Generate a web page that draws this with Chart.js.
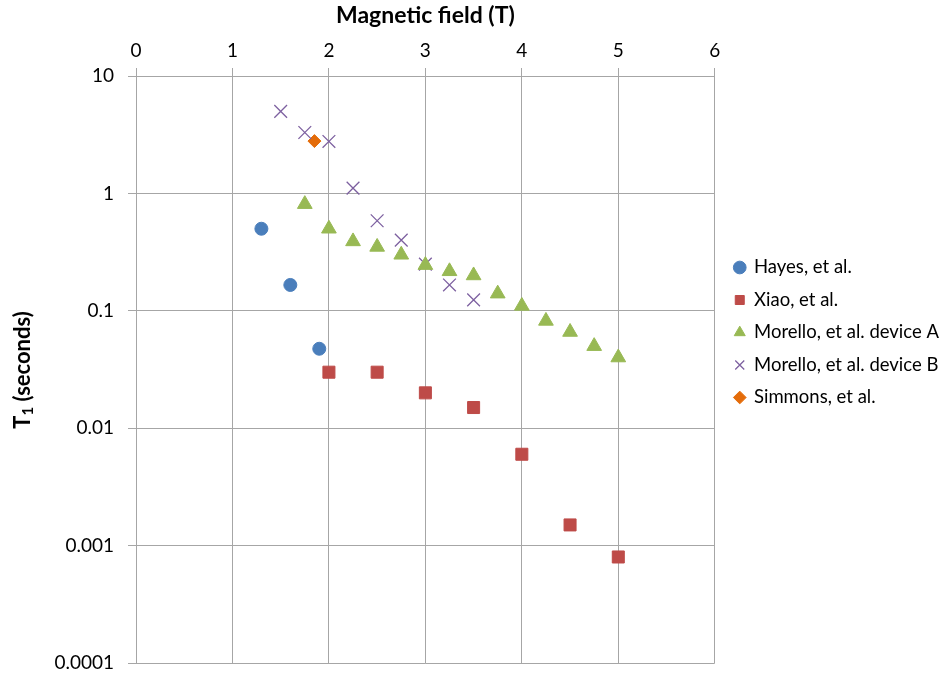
<!DOCTYPE html>
<html>
<head>
<meta charset="utf-8">
<script src="https://cdn.jsdelivr.net/npm/chart.js@4.4.0/dist/chart.umd.min.js"></script>
<style>
  html, body { margin: 0; padding: 0; background: #fff; }
  #wrap { width: 943px; height: 674px; }
</style>
</head>
<body>
<div id="wrap"><canvas id="myChart" width="943" height="674"></canvas></div>
<script>
// T1 versus magnetic field, several groups

const hayesX = [1.3, 1.6, 1.9];
const hayesY = [0.5, 0.166, 0.0475];

const xiaoX = [2, 2.5, 3, 3.5, 4, 4.5, 5];
const xiaoY = [0.03, 0.03, 0.02, 0.015, 0.006, 0.0015, 0.0008];

const morelloAX = [1.75, 2, 2.25, 2.5, 2.75, 3, 3.25, 3.5, 3.75, 4, 4.25, 4.5, 4.75, 5];
const morelloAY = [0.81, 0.5, 0.39, 0.35, 0.30, 0.245, 0.217, 0.2, 0.14, 0.11, 0.082, 0.066, 0.05, 0.04];

const morelloBX = [1.5, 1.75, 2, 2.25, 2.5, 2.75, 3, 3.25, 3.5];
const morelloBY = [5, 3.3, 2.77, 1.11, 0.585, 0.4, 0.25, 0.166, 0.124];

const simmonsX = [1.85];
const simmonsY = [2.79];

const yTicks = [10, 1, 0.1, 0.01, 0.001, 0.0001];

function pts(xs, ys) {
    return xs.map((x, i) => ({ x: x, y: ys[i] }));
}

const FONT = 'Lato, "Open Sans", sans-serif';
const gridColor = '#a6a6a6';

const data = {
    datasets: [{
        label: 'Hayes, et al.',
        data: pts(hayesX, hayesY),
        pointStyle: 'circle',
        pointRadius: 6.5,
        backgroundColor: '#4a7ebb',
        borderColor: '#4a7ebb',
    }, {
        label: 'Xiao, et al.',
        data: pts(xiaoX, xiaoY),
        pointStyle: 'rect',
        pointRadius: 8.5,
        backgroundColor: '#be4b48',
        borderColor: '#be4b48',
    }, {
        label: 'Morello, et al. device A',
        data: pts(morelloAX, morelloAY),
        pointStyle: 'triangle',
        pointRadius: 8.5,
        backgroundColor: '#98b954',
        borderColor: '#98b954',
    }, {
        label: 'Morello, et al. device B',
        data: pts(morelloBX, morelloBY),
        pointStyle: 'crossRot',
        pointRadius: 9,
        borderWidth: 1.3,
        backgroundColor: '#7d60a0',
        borderColor: '#7d60a0',
    }, {
        label: 'Simmons, et al.',
        data: pts(simmonsX, simmonsY),
        pointStyle: 'rectRot',
        pointRadius: 6.5,
        backgroundColor: '#e46c0a',
        borderColor: '#e46c0a',
    }]
};

// y axis title with a subscript, drawn by hand
const yTitle = {
    id: 'yTitle',
    afterDraw(chart) {
        const ctx = chart.ctx;
        ctx.save();
        ctx.translate(23, 370);
        ctx.rotate(-Math.PI / 2);
        ctx.fillStyle = '#000';
        ctx.textBaseline = 'middle';
        const big = 'bold 22px ' + FONT;
        const small = 'bold 15px ' + FONT;
        ctx.font = big;
        const wT = ctx.measureText('T').width;
        const wRest = ctx.measureText(' (seconds)').width;
        ctx.font = small;
        const w1 = ctx.measureText('1').width;
        let x = -(wT + w1 + wRest) / 2;
        ctx.font = big;
        ctx.fillText('T', x, 0);
        x += wT;
        ctx.font = small;
        ctx.fillText('1', x, 5);
        x += w1;
        ctx.font = big;
        ctx.fillText(' (seconds)', x, 0);
        ctx.restore();
    }
};

// nudge the legend a little to the right of the plot
const legendShift = {
    id: 'legendShift',
    afterLayout(chart) {
        chart.legend.left += 6;
        chart.legend.right += 6;
    }
};

const config = {
    type: 'scatter',
    data: data,
    options: {
        responsive: false,
        animation: false,
        layout: {
            padding: { left: 0, top: 2, right: 0, bottom: 11 }
        },
        plugins: {
            legend: {
                position: 'right',
                labels: {
                    usePointStyle: true,
                    boxWidth: 10,
                    boxHeight: 9,
                    padding: 14,
                    color: '#000',
                    font: { family: FONT, size: 18.5 }
                }
            },
            tooltip: { enabled: false }
        },
        scales: {
            x: {
                type: 'linear',
                position: 'top',
                min: 0,
                max: 6,
                afterFit(scale) {
                    scale.height = 74;
                },
                ticks: {
                    stepSize: 1,
                    color: '#000',
                    padding: 6,
                    font: { family: FONT, size: 19 }
                },
                grid: { color: gridColor, tickLength: 8 },
                border: { color: gridColor },
                title: {
                    display: true,
                    text: 'Magnetic field (T)',
                    color: '#000',
                    padding: { top: 0, bottom: 2 },
                    font: { family: FONT, size: 23, weight: 'bold' }
                }
            },
            y: {
                type: 'logarithmic',
                min: 0.0001,
                max: 10,
                afterBuildTicks(scale) {
                    scale.ticks = yTicks.map(v => ({ value: v }));
                },
                afterFit(scale) {
                    scale.width = 136;
                    scale.paddingBottom = 0;
                },
                ticks: {
                    color: '#000',
                    padding: 14,
                    font: { family: FONT, size: 19 },
                    callback: (v) => String(v)
                },
                grid: { color: gridColor, tickLength: 8 },
                border: { color: gridColor }
            }
        }
    },
    plugins: [yTitle, legendShift]
};

const myChart = new Chart(document.getElementById('myChart'), config);
</script>
</body>
</html>
